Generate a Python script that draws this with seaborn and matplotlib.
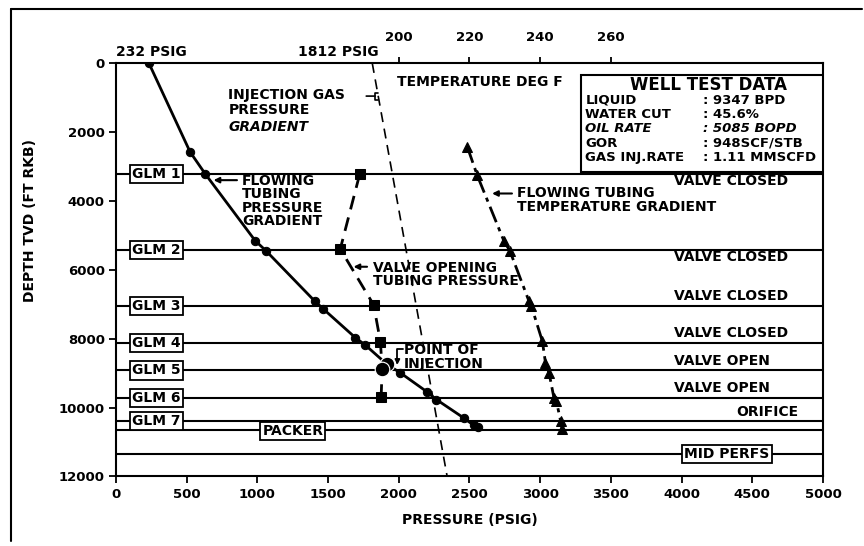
import matplotlib
matplotlib.use("Agg")
import matplotlib.pyplot as plt
from matplotlib.lines import Line2D
from matplotlib.patches import Rectangle
import seaborn as sns
import pandas as pd

sns.set_style("ticks")
plt.rcParams["font.family"] = ["DejaVu Sans"]
plt.rcParams["font.weight"] = "bold"
for key in ["text.color", "axes.labelcolor", "xtick.color", "ytick.color", "axes.edgecolor"]:
    plt.rcParams[key] = "black"

# flowing tubing pressure gradient (psig vs ft)
ftp_pressure = [232, 524, 630, 984, 1060, 1404, 1463, 1693, 1763, 1917, 2011, 2200, 2266, 2460, 2530, 2560]
ftp_depth = [0, 2583, 3213, 5156, 5447, 6904, 7127, 7972, 8185, 8747, 8992, 9545, 9767, 10303, 10516, 10560]

# point of injection
poi_pressure = [1917, 1882]
poi_depth = [8747, 8893]

# valve opening tubing pressure
votp_pressure = [1723, 1586, 1822, 1870, 1882, 1875]
votp_depth = [3233, 5398, 7020, 8088, 8893, 9700]

# injection gas pressure gradient
inj_pressure = [1812, 2342]
inj_depth = [0, 12000]

# flowing tubing temperature gradient (deg F)
temp_degf = [219.4, 222.2, 229.7, 231.4, 236.8, 237.5, 240.6, 241.5, 242.5, 243.9, 244.6, 245.8, 246.2]
temp_depth = [2438, 3262, 5156, 5447, 6904, 7050, 8070, 8700, 8992, 9720, 9816, 10400, 10613]

glm_names = ["GLM 1", "GLM 2", "GLM 3", "GLM 4", "GLM 5", "GLM 6", "GLM 7"]
glm_depth = [3213, 5427, 7050, 8117, 8923, 9720, 10400]
valve_status = ["VALVE CLOSED", "VALVE CLOSED", "VALVE CLOSED", "VALVE CLOSED",
                "VALVE OPEN", "VALVE OPEN", "ORIFICE"]
packer_depth = 10641
perfs_depth = 11350

well_test_labels = ["LIQUID", "WATER CUT", "OIL RATE", "GOR", "GAS INJ.RATE"]
well_test_values = [": 9347 BPD", ": 45.6%", ": 5085 BOPD", ": 948SCF/STB", ": 1.11 MMSCFD"]

fig = plt.figure(figsize=(8.64, 5.46), dpi=100)
ax = fig.add_axes([0.1343, 0.1273, 0.8182, 0.7573])

k = "black"
fs = 10

# depth lines
for d in glm_depth + [packer_depth, perfs_depth]:
    ax.axhline(d, color=k, lw=1.5, zorder=1)

sns.lineplot(x=inj_pressure, y=inj_depth, sort=False, estimator=None, color=k,
             lw=1.2, linestyle=(0, (6, 4)), ax=ax)
sns.lineplot(x=ftp_pressure, y=ftp_depth, sort=False, estimator=None, color=k,
             lw=2, marker="o", ms=6, mec=k, ax=ax)
sns.lineplot(x=votp_pressure, y=votp_depth, sort=False, estimator=None, color=k,
             lw=2, linestyle=(0, (5, 3)), marker="s", ms=6.5, mec=k, ax=ax)
sns.scatterplot(x=poi_pressure, y=poi_depth, color=k, s=110, ax=ax, zorder=5)

ax.set_xlim(0, 5000)
ax.set_ylim(12000, 0)
ax.set_xticks(range(0, 5001, 500))
ax.set_yticks(range(0, 12001, 2000))
ax.tick_params(axis="both", direction="out", length=5, width=1.3, color=k,
               labelsize=9.5, pad=3, labelcolor=k)
ax.set_xlabel("PRESSURE (PSIG)", fontsize=10, fontweight="bold", labelpad=9)
ax.set_ylabel("DEPTH TVD (FT RKB)", fontsize=10, fontweight="bold")
ax.yaxis.set_label_coords(-0.112, 0.62)
for s in ax.spines.values():
    s.set_visible(True)
    s.set_color(k)
    s.set_linewidth(1.5)

# temperature axis on top
ax2 = ax.twiny()
sns.lineplot(x=temp_degf, y=temp_depth, sort=False, estimator=None, color=k,
             lw=2, linestyle=(0, (6, 2, 1.5, 2)), marker="^", ms=7, mec=k, ax=ax2)
ax2.set_xlim(120, 320)
ax2.set_xticks([200, 220, 240, 260])
ax2.tick_params(axis="x", direction="out", length=4, width=1.3, labelsize=9.5, pad=10,
                color=k, labelcolor=k)
ax2.set_ylim(12000, 0)
for s in ax2.spines.values():
    s.set_visible(False)

# GLM boxes
box = dict(boxstyle="square,pad=0.15", fc="white", ec=k, lw=1.3)
for name, d in zip(glm_names, glm_depth):
    ax.text(285, d, name, ha="center", va="center", fontsize=fs, bbox=box, zorder=6)
ax.text(1250, packer_depth + 40, "PACKER", ha="center", va="center", fontsize=fs, bbox=box, zorder=6)
ax.text(4320, perfs_depth, "MID PERFS", ha="center", va="center", fontsize=fs, bbox=box, zorder=6)

for i, (st, d) in enumerate(zip(valve_status, glm_depth)):
    off = 215 if i < 2 else -280
    if st == "ORIFICE":
        ax.text(4823, d + off, st, ha="right", va="center", fontsize=fs)
    else:
        ax.text(3945, d + off, st, ha="left", va="center", fontsize=fs)

# well test data box
ax.add_patch(Rectangle((3290, 350), 1710, 2800, fc="white", ec=k, lw=1.5, zorder=4))
ax.text(4190, 640, "WELL TEST DATA", ha="center", va="center", fontsize=12, zorder=5)
for i, (lab, val) in enumerate(zip(well_test_labels, well_test_values)):
    y = 1080 + i * 415
    st = "italic" if lab == "OIL RATE" else "normal"
    ax.text(3320, y, lab, ha="left", va="center", fontsize=9.5, style=st, zorder=5)
    ax.text(4150, y, val, ha="left", va="center", fontsize=9.5, style=st, zorder=5)

# top labels
ax.text(248, -330, "232 PSIG", ha="center", va="center", fontsize=fs, clip_on=False)
ax.text(1855, -330, "1812 PSIG", ha="right", va="center", fontsize=fs, clip_on=False)
ax.text(1990, 560, "TEMPERATURE DEG F", ha="left", va="center", fontsize=fs)

# annotations
ax.text(795, 930, "INJECTION GAS", ha="left", va="center", fontsize=fs)
ax.text(795, 1370, "PRESSURE", ha="left", va="center", fontsize=fs)
ax.text(795, 1865, "GRADIENT", ha="left", va="center", fontsize=fs, style="italic")
ax.annotate("", xy=(1852, 960), xytext=(1750, 960),
            arrowprops=dict(arrowstyle="-[,widthB=0.25,lengthB=0.2", color=k, lw=1.2))

ax.text(890, 4000, "FLOWING\nTUBING\nPRESSURE\nGRADIENT", ha="left", va="center",
        fontsize=fs, linespacing=0.95)
ax.annotate("", xy=(670, 3400), xytext=(875, 3400),
            arrowprops=dict(arrowstyle="-|>", color=k, lw=1.5, mutation_scale=8))

ax.text(1815, 6130, "VALVE OPENING\nTUBING PRESSURE", ha="left", va="center",
        fontsize=fs, linespacing=0.95)
ax.annotate("", xy=(1660, 5913), xytext=(1795, 5913),
            arrowprops=dict(arrowstyle="-|>", color=k, lw=1.5, mutation_scale=8))

ax.text(2835, 3975, "FLOWING TUBING\nTEMPERATURE GRADIENT", ha="left", va="center",
        fontsize=fs, linespacing=0.95)
ax.annotate("", xy=(2640, 3787), xytext=(2820, 3787),
            arrowprops=dict(arrowstyle="-|>", color=k, lw=1.5, mutation_scale=8))

ax.text(2035, 8530, "POINT OF\nINJECTION", ha="left", va="center", fontsize=fs,
        linespacing=0.95)
ax.annotate("", xy=(1990, 8760), xytext=(2030, 8300),
            arrowprops=dict(arrowstyle="-|>", color=k, lw=1.3, mutation_scale=7,
                            connectionstyle="angle,angleA=180,angleB=90,rad=0",
                            shrinkA=0, shrinkB=0))

# page frame of the scanned figure
fig.add_artist(Line2D([0.013, 0.998], [0.984, 0.984], color=k, lw=1.5))
fig.add_artist(Line2D([0.013, 0.013], [0.984, 0.01], color=k, lw=1.5))

fig.savefig("out.png", dpi=100)
